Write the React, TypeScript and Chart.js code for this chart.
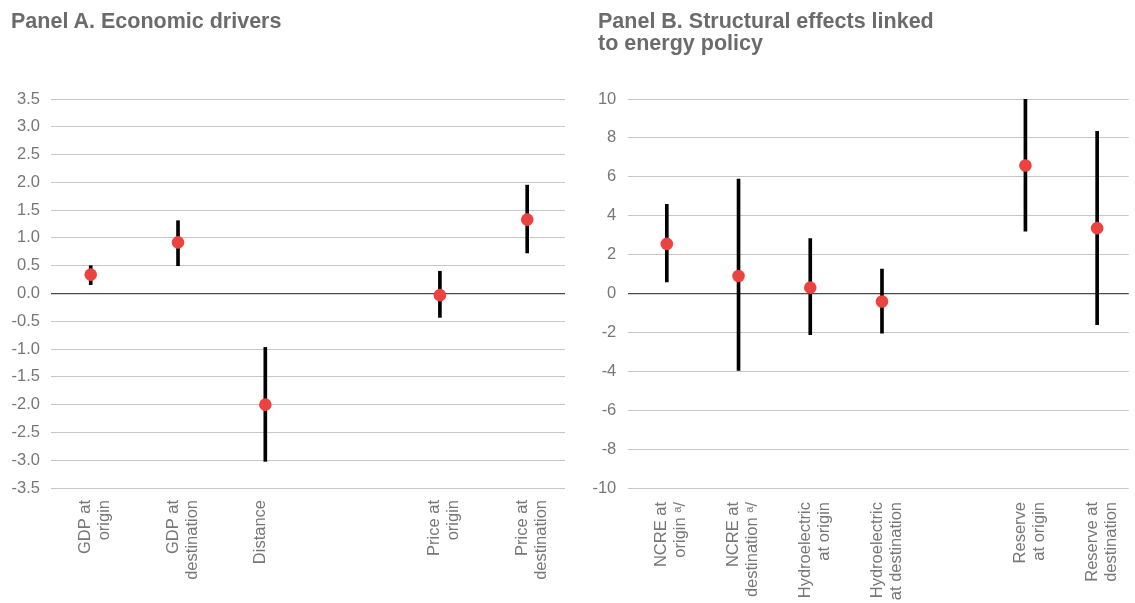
import React, { useEffect, useRef } from "react";
import { Chart, registerables } from "chart.js";

Chart.register(...registerables);

const FONT = "'Liberation Sans', Arial, Helvetica, sans-serif";
const TEXT_GRAY = "#6b6b6b";
const TICK_GRAY = "#777777";

// Panel A — economic drivers
const panelATitle = ["Panel A. Economic drivers"];
const aSlotLabels: (string | string[])[] = [
  ["GDP at", "origin"],
  ["GDP at", "destination"],
  "Distance",
  "",
  ["Price at", "origin"],
  ["Price at", "destination"],
];
const aPositions = [0, 1, 2, 4, 5];
const aEstimate = [0.34, 0.92, -2.0, -0.03, 1.33];
const aLow = [0.16, 0.5, -3.02, -0.43, 0.73];
const aHigh = [0.5, 1.31, -0.97, 0.4, 1.95];

// Panel B — structural effects linked to energy policy
const panelBTitle = ["Panel B. Structural effects linked", "to energy policy"];
const bSlotLabels: (string | string[])[] = [
  ["NCRE at", "origin ᵃ/"],
  ["NCRE at", "destination ᵃ/"],
  ["Hydroelectric", "at origin"],
  ["Hydroelectric", "at destination"],
  "",
  ["Reserve", "at origin"],
  ["Reserve at", "destination"],
];
const bPositions = [0, 1, 2, 3, 5, 6];
const bEstimate = [2.55, 0.9, 0.3, -0.41, 6.58, 3.36];
const bLow = [0.6, -3.96, -2.12, -2.04, 3.2, -1.6];
const bHigh = [4.58, 5.88, 2.83, 1.25, 10.0, 8.34];

type PanelProps = {
  slotLabels: (string | string[])[];
  positions: number[];
  estimate: number[];
  low: number[];
  high: number[];
  xMin: number;
  xMax: number;
  yMin: number;
  yMax: number;
  yStep: number;
  yDecimals: number;
  yAxisWidth: number;
  yPad: number;
  xPad: number;
  width: number;
  height: number;
  padRight: number;
};

function Panel(p: PanelProps) {
  const ref = useRef<HTMLCanvasElement | null>(null);
  useEffect(() => {
    if (!ref.current) return;
    const chart = new Chart(ref.current, {
      type: "scatter",
      data: {
        datasets: [
          {
            type: "scatter",
            data: p.positions.map((x, i) => ({ x, y: p.estimate[i] })),
            pointRadius: 6.3,
            pointBackgroundColor: "#ec4341",
            pointBorderWidth: 0,
            order: 0,
          } as any,
          {
            type: "bar",
            data: p.positions.map((x, i) => ({ x, y: [p.low[i], p.high[i]] })),
            backgroundColor: "#000000",
            borderWidth: 0,
            barThickness: 3,
            order: 1,
          } as any,
        ],
      },
      options: {
        responsive: false,
        animation: false,
        layout: { padding: { top: 99, right: p.padRight, left: 0, bottom: 0 } },
        plugins: { legend: { display: false }, tooltip: { enabled: false }, title: { display: false } },
        scales: {
          x: {
            type: "linear",
            offset: false,
            min: p.xMin,
            max: p.xMax,
            grid: { display: false, drawTicks: false, offset: false },
            border: { display: false },
            afterBuildTicks: (scale: any) => {
              scale.ticks = p.slotLabels.map((_, i) => ({ value: i }));
            },
            afterFit: (scale: any) => {
              scale.height = p.height - 488;
              scale.paddingLeft = 0;
              scale.paddingRight = 0;
            },
            ticks: {
              autoSkip: false,
              maxRotation: 90,
              minRotation: 90,
              padding: p.xPad,
              labelOffset: -5,
              color: TICK_GRAY,
              font: { family: FONT, size: 16.5, lineHeight: 1.15 },
              callback: (v: any) => {
                const idx = Math.round(Number(v));
                return p.slotLabels[idx] ?? "";
              },
            },
          },
          y: {
            type: "linear",
            min: p.yMin,
            max: p.yMax,
            border: { display: false },
            afterFit: (scale: any) => {
              scale.width = p.yAxisWidth;
            },
            grid: {
              drawTicks: false,
              color: (ctx: any) => (ctx.tick && ctx.tick.value === 0 ? "#4a4a4a" : "#c6c6c6"),
              lineWidth: (ctx: any) => (ctx.tick && ctx.tick.value === 0 ? 1.3 : 1),
            },
            ticks: {
              stepSize: p.yStep,
              padding: p.yPad,
              color: TICK_GRAY,
              font: { family: FONT, size: 16.5 },
              callback: (v: any) => Number(v).toFixed(p.yDecimals),
            },
          },
        },
      } as any,
    });
    return () => chart.destroy();
  }, []);
  return <canvas ref={ref} width={p.width} height={p.height} style={{ display: "block" }} />;
}

const titleStyle: React.CSSProperties = {
  position: "absolute",
  fontFamily: FONT,
  fontWeight: 700,
  fontSize: 21.5,
  lineHeight: "22px",
  color: TEXT_GRAY,
  whiteSpace: "nowrap",
};

export default function App() {
  return (
    <div
      style={{
        position: "fixed",
        left: 0,
        top: 0,
        width: 1135,
        height: 603,
        background: "#ffffff",
        overflow: "hidden",
      }}
    >
      <div style={{ position: "absolute", left: 0, top: 0 }}>
        <Panel
          slotLabels={aSlotLabels}
          positions={aPositions}
          estimate={aEstimate}
          low={aLow}
          high={aHigh}
          xMin={-0.455}
          xMax={5.433}
          yMin={-3.5}
          yMax={3.5}
          yStep={0.5}
          yDecimals={1}
          yAxisWidth={51}
          yPad={11}
          xPad={12}
          width={575}
          height={603}
          padRight={10}
        />
      </div>
      <div style={{ position: "absolute", left: 580, top: 0 }}>
        <Panel
          slotLabels={bSlotLabels}
          positions={bPositions}
          estimate={bEstimate}
          low={bLow}
          high={bHigh}
          xMin={-0.537}
          xMax={6.44}
          yMin={-10}
          yMax={10}
          yStep={2}
          yDecimals={0}
          yAxisWidth={48.3}
          yPad={12}
          xPad={14}
          width={555}
          height={603}
          padRight={0}
        />
      </div>
      <div style={{ ...titleStyle, left: 11, top: 10 }}>
        {panelATitle.map((t) => (
          <div key={t}>{t}</div>
        ))}
      </div>
      <div style={{ ...titleStyle, left: 598, top: 10 }}>
        {panelBTitle.map((t) => (
          <div key={t}>{t}</div>
        ))}
      </div>
    </div>
  );
}
